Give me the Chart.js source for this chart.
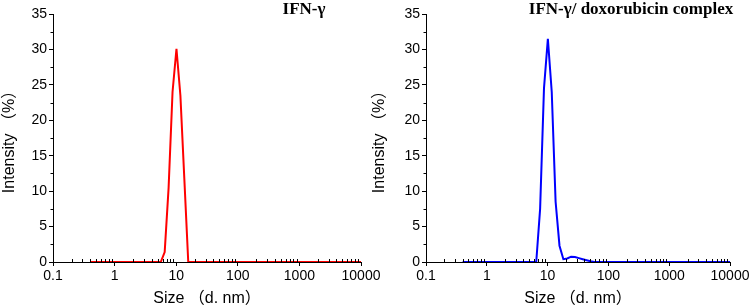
<!DOCTYPE html>
<html>
<head>
<meta charset="UTF-8">
<title>DLS size distribution</title>
<script src="https://cdn.jsdelivr.net/npm/chart.js"></script>
<style>
  body { margin: 0; background: #fff; }
  #wrap { position: relative; width: 754px; height: 308px; }
  canvas { position: absolute; top: 0; }
</style>
</head>
<body>
<div id="wrap">
  <canvas id="chart-left" width="385" height="308" style="left:0"></canvas>
  <canvas id="chart-right" width="384" height="308" style="left:370px"></canvas>
</div>

<script>
// size bins (d. nm)
const sizes = [0.4, 0.4632, 0.5365, 0.6213, 0.7195, 0.8332, 0.9649, 1.117, 1.294, 1.499,
  1.736, 2.01, 2.328, 2.696, 3.122, 3.615, 4.187, 4.849, 5.615, 6.503,
  7.531, 8.721, 10.1, 11.7, 13.54, 15.69, 18.17, 21.04, 24.36, 28.21,
  32.67, 37.84, 43.82, 50.75, 58.77, 68.06, 78.82, 91.28, 105.7, 122.4,
  141.8, 164.2, 190.1, 220.2, 255.0, 295.3, 342.0, 396.1, 458.7, 531.2,
  615.1, 712.4, 825.0, 955.4, 1106, 1281, 1484, 1718, 1990, 2305,
  2669, 3091, 3580, 4145, 4801, 5560, 6439, 7456, 8635, 10000];

// intensity (%) - IFN-γ
const ifnIntensity = [0, 0, 0, 0, 0, 0, 0, 0, 0, 0,
  0, 0, 0, 0, 0, 0, 0, 0, 0, 1.4,
  10.5, 24.0, 30.1, 23.5, 11.8, 0, 0, 0, 0, 0,
  0, 0, 0, 0, 0, 0, 0, 0, 0, 0,
  0, 0, 0, 0, 0, 0, 0, 0, 0, 0,
  0, 0, 0, 0, 0, 0, 0, 0, 0, 0,
  0, 0, 0, 0, 0, 0, 0, 0, 0, 0];

// intensity (%) - IFN-γ/ doxorubicin complex
const complexIntensity = [0, 0, 0, 0, 0, 0, 0, 0, 0, 0,
  0, 0, 0, 0, 0, 0, 0, 0, 0, 0,
  7.5, 24.5, 31.5, 24.0, 8.5, 2.3, 0.4, 0.5, 0.75, 0.7,
  0.55, 0.4, 0.25, 0.1, 0, 0, 0, 0, 0, 0,
  0, 0, 0, 0, 0, 0, 0, 0, 0, 0,
  0, 0, 0, 0, 0, 0, 0, 0, 0, 0,
  0, 0, 0, 0, 0, 0, 0, 0, 0, 0];

const xTicks = [0.1, 1, 10, 100, 1000, 10000];
const yTicks = [0, 5, 10, 15, 20, 25, 30, 35];

Chart.defaults.font.family = 'Arial, "Liberation Sans", sans-serif';
Chart.defaults.color = '#000';

// small ticks between the labelled ones
const minorTicks = {
  id: 'minorTicks',
  afterDraw(chart) {
    const ctx = chart.ctx;
    const x = chart.scales.x, y = chart.scales.y;
    ctx.save();
    ctx.strokeStyle = '#000';
    ctx.lineWidth = 1;
    ctx.beginPath();
    for (let i = 0; i < xTicks.length - 1; i++) {
      for (let k = 2; k <= 9; k++) {
        const px = Math.round(x.getPixelForValue(xTicks[i] * k)) + 0.5;
        ctx.moveTo(px, y.bottom);
        ctx.lineTo(px, y.bottom - 3);
      }
    }
    for (let i = 0; i < yTicks.length - 1; i++) {
      const py = Math.round(y.getPixelForValue(yTicks[i] + 2.5)) + 0.5;
      ctx.moveTo(x.left, py);
      ctx.lineTo(x.left - 2.5, py);
    }
    ctx.stroke();
    ctx.restore();
  }
};

const panelTitle = {
  id: 'panelTitle',
  afterDraw(chart, args, opts) {
    const ctx = chart.ctx;
    ctx.save();
    ctx.font = 'bold 17px "Liberation Serif", "Times New Roman", serif';
    ctx.fillStyle = '#000';
    ctx.textAlign = 'center';
    ctx.textBaseline = 'middle';
    ctx.fillText(opts.text, opts.x, 10);
    ctx.restore();
  }
};

function makeChart(id, values, color, title, titleX, yWidth) {
  return new Chart(document.getElementById(id), {
    type: 'line',
    data: {
      datasets: [{
        data: sizes.map((s, i) => ({ x: s, y: values[i] })),
        borderColor: color,
        borderWidth: 2,
        pointRadius: 0,
        tension: 0,
        fill: false
      }]
    },
    options: {
      responsive: false,
      animation: false,
      devicePixelRatio: 1,
      layout: { padding: { top: 14, right: 24, left: 0, bottom: 0 } },
      plugins: {
        legend: { display: false },
        tooltip: { enabled: false },
        panelTitle: { text: title, x: titleX }
      },
      scales: {
        x: {
          type: 'logarithmic',
          min: 0.1,
          max: 10000,
          afterBuildTicks: s => { s.ticks = xTicks.map(v => ({ value: v })); },
          afterFit: s => { s.height = 46; },
          ticks: {
            callback: v => String(v),
            font: { size: 14 },
            padding: 2,
            maxRotation: 0,
            autoSkip: false
          },
          grid: { drawOnChartArea: false, tickLength: 4, color: '#000' },
          border: { color: '#000', width: 1 },
          title: {
            display: true,
            text: 'Size （d. nm）',
            font: { size: 16, family: 'Arial, "Liberation Sans", "Noto Sans CJK SC", sans-serif' },
            padding: { top: 0, bottom: 0 }
          }
        },
        y: {
          min: 0,
          max: 35,
          afterBuildTicks: s => { s.ticks = yTicks.map(v => ({ value: v })); },
          afterFit: s => { s.width = yWidth; },
          ticks: { font: { size: 14 }, padding: 2 },
          grid: { drawOnChartArea: false, tickLength: 4, color: '#000' },
          border: { color: '#000', width: 1 },
          title: {
            display: true,
            text: 'Intensity （%）',
            font: { size: 16, family: 'Arial, "Liberation Sans", "Noto Sans CJK SC", sans-serif' },
            padding: { top: 0, bottom: 0 }
          }
        }
      }
    },
    plugins: [minorTicks, panelTitle]
  });
}

makeChart('chart-left', ifnIntensity, '#ff0000', 'IFN-γ', 304, 53);
makeChart('chart-right', complexIntensity, '#0000ff', 'IFN-γ/ doxorubicin complex', 261, 56);
</script>
</body>
</html>
